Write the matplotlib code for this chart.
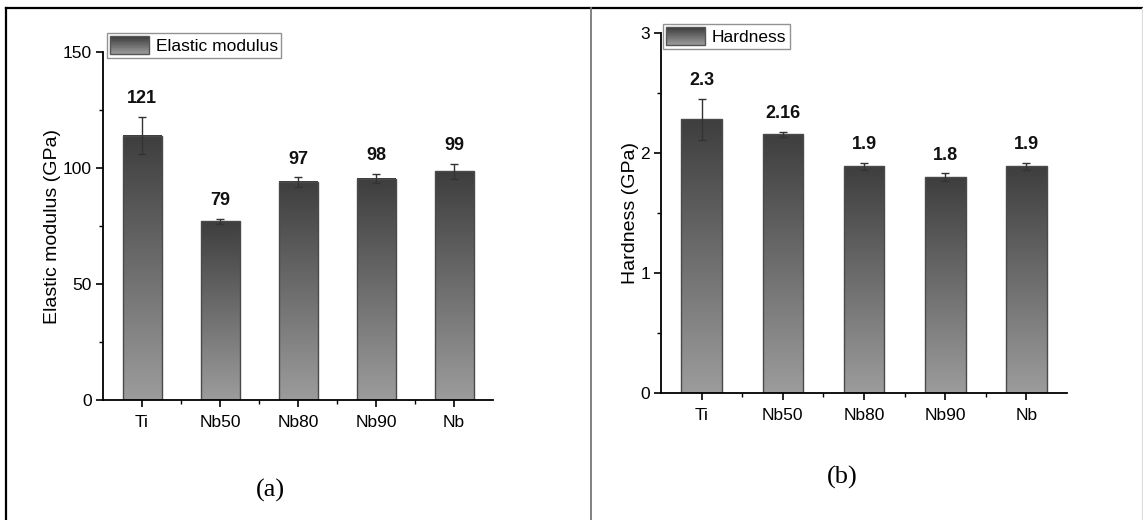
import numpy as np
import matplotlib.pyplot as plt
from matplotlib.lines import Line2D
from matplotlib.patches import Rectangle
from matplotlib.legend_handler import HandlerBase
from matplotlib.colors import LinearSegmentedColormap

plt.rcParams['font.family'] = ['Liberation Sans', 'DejaVu Sans']

samples = ['Ti', 'Nb50', 'Nb80', 'Nb90', 'Nb']

modulus = [114, 77, 94, 95.4, 98.6]
modulus_err = [8, 1, 2, 2, 3.3]
modulus_labels = ['121', '79', '97', '98', '99']

hardness = [2.28, 2.155, 1.89, 1.80, 1.89]
hardness_err = [0.17, 0.02, 0.03, 0.03, 0.03]
hardness_labels = ['2.3', '2.16', '1.9', '1.8', '1.9']

W, H = 1143, 520
grad = LinearSegmentedColormap.from_list('grad', ['#9c9c9c', '#3e3e3e'])


class GradientHandler(HandlerBase):
    # legend key drawn as a stack of thin stripes, dark on top
    def create_artists(self, legend, orig, xd, yd, width, height, fontsize, trans):
        arts = []
        n = 24
        for i in range(n):
            r = Rectangle((-xd, -yd + height * i / n), width, height / n + 0.3,
                          facecolor=grad(i / (n - 1)), edgecolor='none', transform=trans)
            arts.append(r)
        arts.append(Rectangle((-xd, -yd), width, height, facecolor='none',
                              edgecolor='#555555', lw=1, transform=trans))
        return arts


def panel(rect, values, errs, labels, ylim, yticks, minor, ylabel, legend_name, legend_xy):
    ax = fig.add_axes(rect)
    x = np.arange(1, len(samples) + 1)
    width = 0.5
    g = np.linspace(0, 1, 256).reshape(-1, 1)
    for xi, v in zip(x, values):
        ax.imshow(g, extent=[xi - width / 2, xi + width / 2, 0, v], origin='lower',
                  cmap=grad, aspect='auto', zorder=1)
    ax.bar(x, values, width, facecolor='none', edgecolor='#4a4a4a', lw=1, zorder=2)
    ax.errorbar(x, values, yerr=errs, fmt='none', ecolor='#333333', elinewidth=1,
                capsize=3, capthick=1, zorder=3)
    for xi, v, e, lab in zip(x, values, errs, labels):
        ax.annotate(lab, (xi, v + e), xytext=(0, 7), textcoords='offset points',
                    ha='center', va='bottom', fontsize=13, fontweight='bold', color='#111111')
    ax.set_xlim(0.5, 5.5)
    ax.set_ylim(*ylim)
    ax.set_xticks(x)
    ax.set_xticklabels(samples)
    ax.set_xticks(x[:-1] + 0.5, minor=True)
    ax.set_yticks(yticks)
    ax.set_yticks(minor, minor=True)
    ax.set_ylabel(ylabel, fontsize=14, labelpad=1)
    for s in ['top', 'right']:
        ax.spines[s].set_visible(False)
    for s in ['left', 'bottom']:
        ax.spines[s].set_linewidth(1.3)
    ax.tick_params(which='major', direction='out', length=5, width=1.2, labelsize=12.5, pad=3)
    ax.tick_params(which='minor', direction='out', length=3, width=1)
    ax.tick_params(axis='x', pad=6)
    leg = fig.legend([Rectangle((0, 0), 1, 1)], [legend_name],
                     handler_map={Rectangle: GradientHandler()},
                     loc='upper left', bbox_to_anchor=legend_xy, bbox_transform=fig.transFigure,
                     borderaxespad=0, fontsize=12.5, frameon=True, fancybox=False,
                     handlelength=2.2, handleheight=1.2, handletextpad=0.4,
                     borderpad=0.2, edgecolor='#777777')
    leg.get_frame().set_linewidth(1)
    return ax


fig = plt.figure(figsize=(W / 100, H / 100), dpi=100)

panel([103 / W, (H - 400) / H, 390 / W, 348 / H], modulus, modulus_err, modulus_labels,
      (0, 150), [0, 50, 100, 150], [25, 75, 125], 'Elastic modulus (GPa)',
      'Elastic modulus', (107 / W, 1 - 33 / H))
panel([661 / W, (H - 393) / H, 406 / W, 360 / H], hardness, hardness_err, hardness_labels,
      (0, 3), [0, 1, 2, 3], [0.5, 1.5, 2.5], 'Hardness (GPa)',
      'Hardness', (663 / W, 1 - 24 / H))

fig.text(270 / W, 1 - 490 / H, '(a)', family='Liberation Serif', fontsize=19, ha='center', va='center')
fig.text(842 / W, 1 - 477 / H, '(b)', family='Liberation Serif', fontsize=19, ha='center', va='center')

# outer frame of the figure
fig.add_artist(Line2D([6 / W, 6 / W], [0, 1 - 8 / H], color='black', lw=1.6))
fig.add_artist(Line2D([6 / W, 1142 / W], [1 - 8 / H, 1 - 8 / H], color='black', lw=1.6))
fig.add_artist(Line2D([591 / W, 591 / W], [0, 1 - 8 / H], color='#777777', lw=1.3))
fig.add_artist(Line2D([1142 / W, 1142 / W], [0, 1 - 8 / H], color='#dddddd', lw=1))

fig.savefig('out.png', dpi=100)
